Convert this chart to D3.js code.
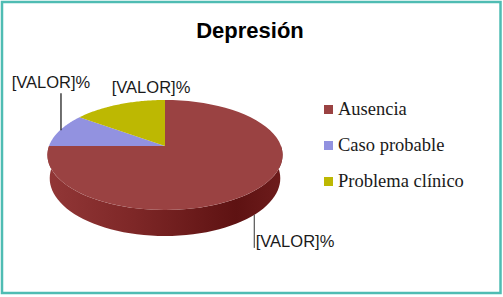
<!DOCTYPE html>
<html>
  <head>
    <title>Depresión</title>
    <script src="https://d3js.org/d3.v7.min.js"></script>
    <style>
      body, html {
        margin: 0;
        width: 100%;
        height: 100%;
        overflow: hidden;
        background: #fff;
      }
      .titleText {
        font-family: 'Liberation Sans', Arial, sans-serif;
        font-size: 22px;
        font-weight: bold;
        fill: #000;
      }
      .valueLabel {
        font-family: 'Liberation Sans', Arial, sans-serif;
        font-size: 16.5px;
        fill: #1a1a1a;
      }
      .legendText {
        font-family: 'Liberation Serif', 'Times New Roman', serif;
        font-size: 18.5px;
        fill: #1a1a1a;
      }
    </style>
  </head>
  <body>
    <svg id="chart" width="503" height="297"></svg>
    <script>
      // chart data
      const categories = ["Ausencia", "Caso probable", "Problema clínico"];
      const values = [75, 10, 15];
      const valueLabels = ["[VALOR]%", "[VALOR]%", "[VALOR]%"];
      const sliceColors = ["#9a4242", "#9292e0", "#bdb802"];
      const chartTitle = "Depresión";

      const width = 503, height = 297;
      const svg = d3.select("#chart");

      // frame
      svg.append("rect")
        .attr("x", 2).attr("y", 2)
        .attr("width", 498.5).attr("height", 291)
        .attr("fill", "#fff")
        .attr("stroke", "#4fbcb3")
        .attr("stroke-width", 2.5);

      svg.append("text")
        .attr("class", "titleText")
        .attr("x", 250).attr("y", 38)
        .attr("text-anchor", "middle")
        .text(chartTitle);

      // simple perspective projection of a tilted disk
      const cx = 165, cy = 146;
      const tilt = Math.asin(0.4614);
      const sinT = Math.sin(tilt), cosT = Math.cos(tilt);
      const camDist = 5.424, focal = 629.2, thick = 0.2285;

      function project(theta, level) {
        const X = Math.sin(theta);
        const Z = -Math.cos(theta);
        const Y = -level * thick;
        const yCam = Z * sinT - Y * cosT;
        const depth = camDist - Z * cosT - Y * sinT;
        return [cx + focal * X / depth, cy + focal * yCam / depth];
      }
      const apex = [cx, cy];

      const arcs = d3.pie().sort(null)(values);
      const line = d3.line();
      const steps = a => d3.range(0, 61).map(i => a[0] + (a[1] - a[0]) * i / 60);

      // side shading
      const defs = svg.append("defs");
      const left = project(-Math.PI / 2, 0)[0] - 3;
      const right = project(Math.PI / 2, 0)[0] + 3;
      const grad = defs.append("linearGradient")
        .attr("id", "sideShade")
        .attr("gradientUnits", "userSpaceOnUse")
        .attr("x1", left).attr("x2", right)
        .attr("y1", 0).attr("y2", 0);
      [[0, "#923737"], [0.35, "#7f2828"], [0.8, "#5e1212"], [1, "#6e1c1c"]].forEach(s => {
        grad.append("stop").attr("offset", s[0]).attr("stop-color", s[1]);
      });

      const g = svg.append("g");

      // front walls (near half of the disk)
      arcs.forEach((d, i) => {
        const a0 = Math.max(d.startAngle, Math.PI / 2);
        const a1 = Math.min(d.endAngle, 3 * Math.PI / 2);
        if (a1 <= a0) return;
        const ang = steps([a0, a1]);
        const pts = ang.map(t => project(t, 0)).concat(ang.slice().reverse().map(t => project(t, 1)));
        g.append("path")
          .attr("d", line(pts) + "Z")
          .attr("fill", i === 0 ? "url(#sideShade)" : d3.color(sliceColors[i]).darker(0.8));
      });

      // top faces
      arcs.forEach((d, i) => {
        const pts = [apex].concat(steps([d.startAngle, d.endAngle]).map(t => project(t, 0)));
        g.append("path")
          .attr("d", line(pts) + "Z")
          .attr("fill", sliceColors[i]);
      });

      // value labels
      const mid = d => (d.startAngle + d.endAngle) / 2;
      // Ausencia: leader from the wall bottom downwards
      {
        const p = project(mid(arcs[0]), 1);
        g.append("line")
          .attr("x1", p[0] - 1.5).attr("y1", p[1] + 1)
          .attr("x2", p[0] - 1.5).attr("y2", p[1] + 34)
          .attr("stroke", "#333").attr("stroke-width", 1);
        g.append("text").attr("class", "valueLabel")
          .attr("x", p[0]).attr("y", p[1] + 33)
          .text(valueLabels[0]);
      }
      // Caso probable: leader upwards
      {
        const p = project(mid(arcs[1]), 0);
        g.append("line")
          .attr("x1", p[0] + 1).attr("y1", p[1])
          .attr("x2", p[0] + 1).attr("y2", p[1] - 37)
          .attr("stroke", "#222").attr("stroke-width", 1.3);
        g.append("text").attr("class", "valueLabel")
          .attr("x", p[0] - 9).attr("y", p[1] - 42)
          .attr("text-anchor", "middle")
          .text(valueLabels[1]);
      }
      // Problema clínico: label above the slice
      {
        const p = project(mid(arcs[2]), 0);
        g.append("text").attr("class", "valueLabel")
          .attr("x", p[0] + 32).attr("y", p[1] - 11)
          .attr("text-anchor", "middle")
          .text(valueLabels[2]);
      }

      // legend
      const legend = svg.append("g").attr("transform", "translate(324,115)");
      const rows = legend.selectAll("g").data(categories).enter().append("g")
        .attr("transform", (d, i) => `translate(0,${i * 36})`);
      rows.append("rect")
        .attr("x", 0).attr("y", -10)
        .attr("width", 9).attr("height", 9)
        .attr("fill", (d, i) => sliceColors[i]);
      rows.append("text")
        .attr("class", "legendText")
        .attr("x", 14).attr("y", 0)
        .text(d => d);
    </script>
  </body>
</html>
